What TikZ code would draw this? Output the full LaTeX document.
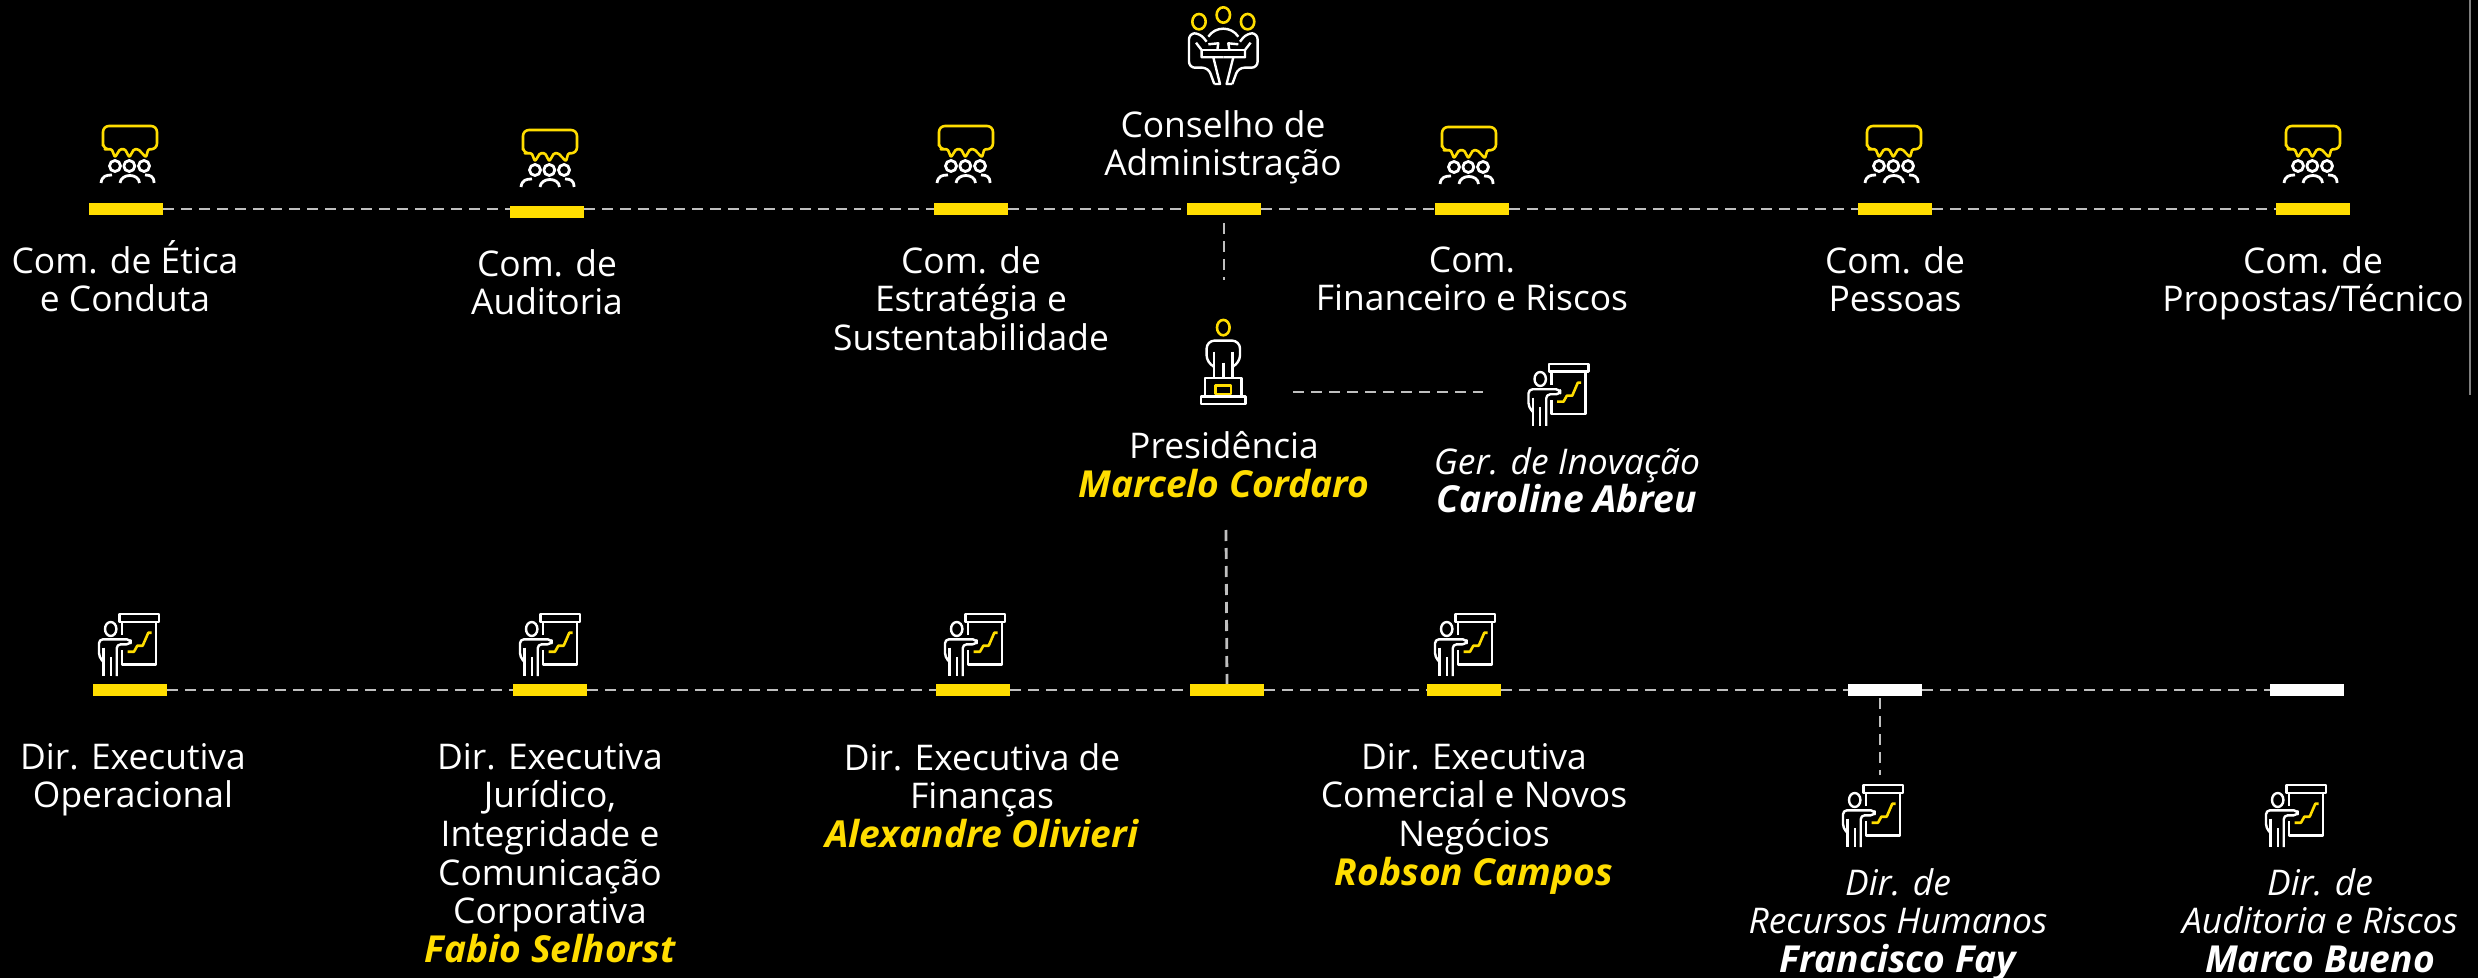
\documentclass[tikz,border=0pt]{standalone}
\usepackage{fontspec}
\setmainfont{Open Sans}
\definecolor{amarelo}{HTML}{FFDD00}
\definecolor{dashgray}{HTML}{BFBFBF}
\definecolor{scrollgray}{HTML}{7F7F7F}
\newcommand{\ynome}[1]{{\fontsize{18.6}{19.3}\selectfont\color{amarelo}\bfseries\itshape #1}}
\newcommand{\wnome}[1]{{\fontsize{18.6}{19.3}\selectfont\bfseries\itshape #1}}
\tikzset{
  wline/.style={white,line width=1.2pt,line join=round},
  yline/.style={amarelo,line width=1.3pt,line join=round},
  comite/.pic={
    \draw[yline,rounded corners=3pt] (-27,-5.7) -- (-27,-29) -- (27,-29) -- (27,-5.7) [rounded corners=0.6pt] -- (18.3,-5.7) -- (16,2.3) -- (8.3,-5.7) -- (4,-5.7) -- (-0.7,2.3) -- (-5,-5.7) -- (-10,-5.7) -- (-15,2.3) -- (-18.3,-5.7) -- (-24,-5.7) [rounded corners=3pt] -- (-27,-5.7) -- cycle;
    \draw[wline,line width=1.4pt] (-15,11) circle [radius=5.5] (-0.7,11) circle [radius=5.5] (14,11) circle [radius=5.5];
    \draw[wline,line width=1.4pt] (-10,28) .. controls (-9,18) and (9,18) .. (9.5,28);
    \draw[wline,line width=1.4pt] (-29,28) .. controls (-28,21) and (-24,20) .. (-18,20);
    \draw[wline,line width=1.4pt] (24,28) .. controls (24,21) and (20,20) .. (15,20);
  },
  presenter/.pic={
    \draw[wline] (-10.7,-31) rectangle (29,-23.3);
    \draw[wline] (-8,-10) -- (-8,-23.3) (26,-23.3) -- (26,19.3) -- (-8,19.3) -- (-8,5);
    \draw[wline] (-19.3,-16) ellipse [x radius=5.7,y radius=7];
    \draw[wline,rounded corners=2pt] (-26.7,16.7) -- (-31,12) -- (-31,-5.7) -- (0.7,-5.7) -- (0.7,-0.7) -- (-13.3,-0.7) -- (-13.3,31);
    \draw[wline] (-26.7,2.7) -- (-26.7,31) (-19.3,12.3) -- (-19.3,31);
    \draw[yline] (-2.3,6.7) -- (4,6.7) -- (7.3,0.7) -- (12.7,0.7) -- (18.3,-12.3) -- (21.7,-12.3);
  },
  conselhoicon/.pic={
    \draw[yline] (-24.3,-23.3) ellipse [x radius=6.7,y radius=7.7] (0,-30) ellipse [x radius=6.7,y radius=7.7] (24.3,-23.3) ellipse [x radius=6.7,y radius=7.7];
    \draw[wline] (-15,-8.3) .. controls (-8,-19) and (8,-19) .. (15,-8.3);
    \foreach \s in {1,-1}{
      \begin{scope}[xscale=\s]
        \draw[wline,rounded corners=3pt] (-16.7,-3.3) -- (-23.3,-11.7) -- (-34.3,-11.7) -- (-34.3,22.7) -- (-15,22.7) -- (-9,39);
        \draw[wline] (-9,39) -- (-3.3,39) -- (-10,12.3);
        \draw[wline] (-27.3,-2.3) -- (-21.7,5) -- (-21.7,12.3) -- (0,12.3);
        \draw[wline] (-21.7,5) -- (0,5);
        \draw[wline] (-15,-0.7) -- (-5,-1.7) -- (-6,5);
      \end{scope}
    }
  },
  podio/.pic={
    \draw[yline] (0,-35.7) ellipse [x radius=6.3,y radius=7.7];
    \draw[wline,rounded corners=4pt] (-10.7,2.7) -- (-16.7,0) -- (-16.7,-22.7) -- (16.7,-22.7) -- (16.7,0) -- (10.7,2.7);
    \draw[wline] (-9.3,-11.7) -- (-9.3,15) (9.3,-11.7) -- (9.3,15) (0,-0.7) -- (0,15);
    \draw[wline] (-18.3,33.3) -- (-18.3,15) -- (18.3,15) -- (18.3,33.3);
    \draw[wline] (-22.3,33.3) rectangle (22.3,41);
    \draw[yline] (-7.7,22.3) rectangle (7.7,30.7);
  }
}
\begin{document}
\begin{tikzpicture}[x=0.5pt,y=-0.5pt,
  ybox/.style={rectangle,fill=amarelo,minimum width=37pt,minimum height=6pt,inner sep=0pt,outer sep=0pt},
  wbox/.style={ybox,fill=white},
  spot/.style={inner sep=0pt,outer sep=0pt,minimum width=35pt},
  lbl/.style={anchor=north,inner sep=0pt,align=center,text=white,font=\fontsize{17.7}{19.3}\selectfont,execute at begin node=\strut},
  dashline/.style={dashgray,line width=1.4pt,dash pattern=on 5.5pt off 3.5pt}]

  \fill[black] (0,0) rectangle (2478,978);
  \useasboundingbox (0,0) rectangle (2478,978);
  \draw[scrollgray,line width=0.8pt] (2470,0) -- (2470,395);

  \node[ybox] (etica) at (126,209) {};
  \node[ybox] (auditoria) at (547,212) {};
  \node[ybox] (estrategia) at (971,209) {};
  \node[ybox] (conselho) at (1224,209) {};
  \node[ybox] (financeiro) at (1472,209) {};
  \node[ybox] (pessoas) at (1895,209) {};
  \node[ybox] (propostas) at (2313,209) {};

  \node[ybox] (operacional) at (130,690) {};
  \node[ybox] (juridico) at (550,690) {};
  \node[ybox] (financas) at (973,690) {};
  \node[ybox] (presbar) at (1227,690) {};
  \node[ybox] (comercial) at (1464,690) {};
  \node[wbox] (rh) at (1885,690) {};
  \node[wbox] (audit) at (2307,690) {};

  \node[spot,minimum width=70pt] (podioSpot) at (1223,392) {};
  \node[spot,minimum width=50pt] (inovSpot) at (1533,392) {};
  \coordinate (conselhoEnd) at (1224,280);
  \coordinate (presStart) at (1226,530);
  \coordinate (rhEnd) at (1880,775);

  \pic at (130,155) {comite};
  \pic at (550,159) {comite};
  \pic at (966,155) {comite};
  \pic at (1469,156) {comite};
  \pic at (1894,155) {comite};
  \pic at (2313,155) {comite};
  \pic at (1223.3,45) {conselhoicon};
  \pic at (1223.3,363.3) {podio};
  \pic at (1559.5,395) {presenter};
  \pic at (130,645) {presenter};
  \pic at (551,645) {presenter};
  \pic at (976,645) {presenter};
  \pic at (1466,645) {presenter};
  \pic at (1874,816) {presenter};
  \pic at (2297,816) {presenter};

  \node[lbl] (conselhoTxt) at (1223,110) {Conselho de\\Administração};
  \node[lbl] (eticaTxt) at (125,240) {Com. de Ética\\e Conduta};
  \node[lbl] (auditoriaTxt) at (547,249) {Com. de\\Auditoria};
  \node[lbl] (estrategiaTxt) at (971,246) {Com. de\\Estratégia e\\Sustentabilidade};
  \node[lbl] (financeiroTxt) at (1472,246) {Com.\\Financeiro e Riscos};
  \node[lbl] (pessoasTxt) at (1895,246) {Com. de\\Pessoas};
  \node[lbl] (propostasTxt) at (2313,246) {Com. de\\Propostas/Técnico};
  \node[lbl] (presTxt) at (1224,431) {Presidência\\\ynome{Marcelo Cordaro}};
  \node[lbl] (inovTxt) at (1567,447) {\itshape Ger. de Inovação\\\wnome{Caroline Abreu}};
  \node[lbl] (operTxt) at (133,743) {Dir. Executiva\\Operacional};
  \node[lbl] (juridicoTxt) at (550,743) {Dir. Executiva\\Jurídico,\\Integridade e\\Comunicação\\Corporativa\\\ynome{Fabio Selhorst}};
  \node[lbl] (financasTxt) at (982,743) {Dir. Executiva de\\Finanças\\\ynome{Alexandre Olivieri}};
  \node[lbl] (comercialTxt) at (1474,743) {Dir. Executiva\\Comercial e Novos\\Negócios\\\ynome{Robson Campos}};
  \node[lbl] (rhTxt) at (1898,868) {\itshape Dir. de\\\itshape Recursos Humanos\\\wnome{Francisco Fay}};
  \node[lbl] (auditTxt) at (2320,868) {\itshape Dir. de\\\itshape Auditoria e Riscos\\\wnome{Marco Bueno}};

  \path[dashline]
    (etica) edge (auditoria.west |- etica)
    (auditoria.east |- estrategia) edge (estrategia)
    (estrategia) edge (conselho)
    (conselho) edge (financeiro)
    (financeiro) edge (pessoas)
    (pessoas) edge (propostas)
    (operacional) edge (juridico)
    (juridico) edge (financas)
    (financas) edge (presbar)
    (presbar) edge (comercial)
    (comercial) edge (rh)
    (rh) edge (audit)
    (podioSpot) edge (inovSpot)
    (presStart) edge (presbar);
  \draw[dashline,shorten <=4pt] (conselho) -- (conselhoEnd);
  \draw[dashline,shorten <=1pt] (rh.south -| rhEnd) -- (rhEnd);
\end{tikzpicture}
\end{document}
